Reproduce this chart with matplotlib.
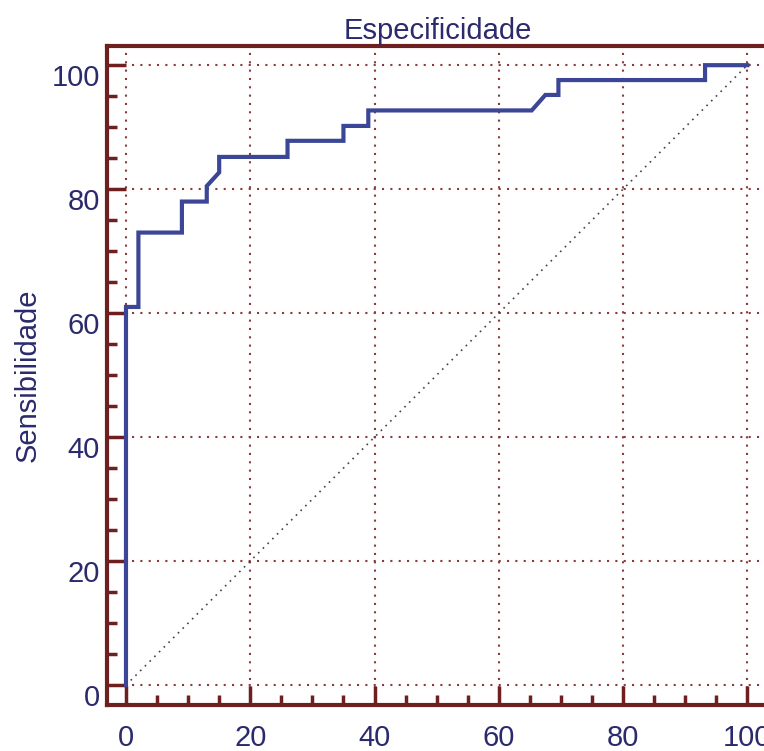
import matplotlib
matplotlib.use("Agg")
import matplotlib.pyplot as plt
from matplotlib.ticker import MultipleLocator
from matplotlib.transforms import ScaledTranslation

# curva ROC: 100 - especificidade vs sensibilidade
fpr = [0, 0, 2, 2, 9, 9, 13, 13, 15, 15, 26, 26, 35, 35, 39, 39,
       65.3, 67.5, 69.6, 69.6, 93.2, 93.2, 100]
sens = [0, 61, 61, 73, 73, 78, 78, 80.5, 82.7, 85.2, 85.2, 87.8, 87.8, 90.2, 90.2, 92.7,
        92.7, 95.2, 95.2, 97.6, 97.6, 100, 100]
ticks = [0, 20, 40, 60, 80, 100]

txt_col = "#2a2a6c"
frame_col = "#6e1f1f"
grid_col = "#8a3a3a"
curve_col = "#3b4696"
fs = 21

plt.rcParams['font.family'] = ['Liberation Sans', 'DejaVu Sans']

fig = plt.figure(figsize=(7.64, 7.51), dpi=100)
ax = fig.add_axes([0.1401, 0.0613, 0.8665, 0.8775])

ax.set_xlim(-3.05, 103.5)
ax.set_ylim(-3.2, 103.1)

# grade pontilhada
for t in ticks:
    ax.axhline(t, color=grid_col, lw=1.5, ls=(0, (1, 3)), zorder=1)
    ax.axvline(t, color=grid_col, lw=1.5, ls=(0, (1, 3)), zorder=1)

# diagonal de referencia
ax.plot([0, 100], [0, 100], color="#444444", lw=1.2, ls=(0, (1, 3)), zorder=2)

ax.plot(fpr, sens, color=curve_col, lw=3.0, zorder=3, solid_joinstyle='miter')

for side in ['left', 'bottom', 'top']:
    ax.spines[side].set_color(frame_col)
    ax.spines[side].set_linewidth(3)
ax.spines['right'].set_visible(False)

ax.xaxis.set_major_locator(MultipleLocator(20))
ax.yaxis.set_major_locator(MultipleLocator(20))
ax.xaxis.set_minor_locator(MultipleLocator(5))
ax.yaxis.set_minor_locator(MultipleLocator(5))
ax.tick_params(which='major', direction='in', length=14, width=2.5, color=frame_col,
               labelcolor=txt_col, labelsize=fs)
ax.tick_params(which='minor', direction='in', length=7, width=2.5, color=frame_col)
ax.tick_params(axis='x', which='major', pad=14)
ax.tick_params(axis='y', which='major', pad=5)
ax.tick_params(top=False, right=False, which='both')

for lab in ax.get_yticklabels():
    lab.set_transform(lab.get_transform() + ScaledTranslation(0, -7 / 72, fig.dpi_scale_trans))

ax.set_title("Especificidade", fontsize=fs, color=txt_col, pad=5)
ax.set_ylabel("Sensibilidade", fontsize=fs, color=txt_col)
ax.yaxis.set_label_coords(-0.098, 0.5)

fig.savefig("out.png", dpi=100)
